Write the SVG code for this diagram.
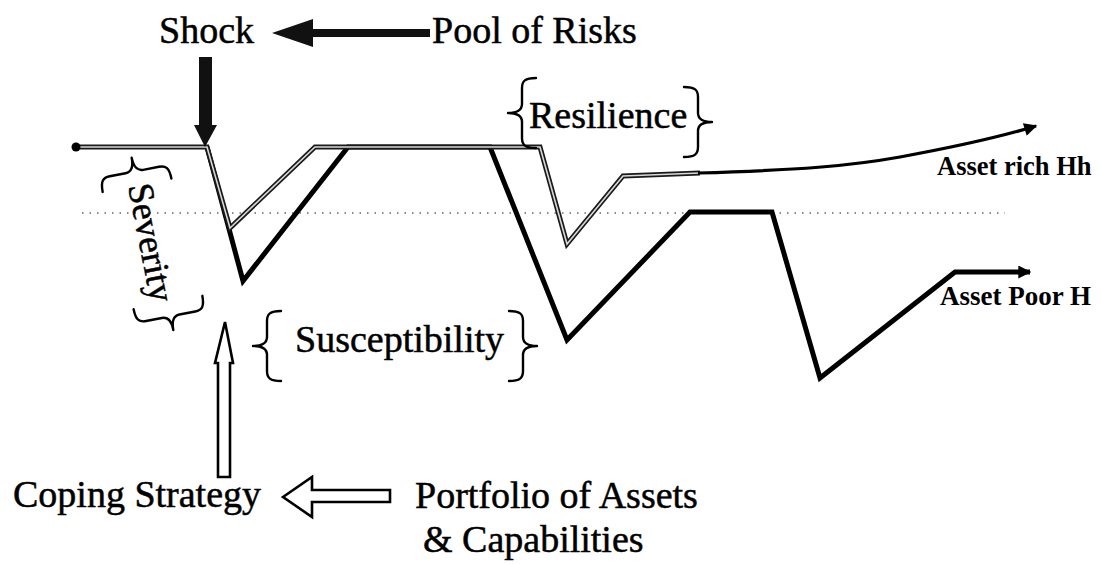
<svg xmlns="http://www.w3.org/2000/svg" xmlns:xlink="http://www.w3.org/1999/xlink" width="1101" height="564" viewBox="0 0 1101 564">
<style>
.t{font-family:"Liberation Serif","Times New Roman",serif;font-size:38px;fill:#000;stroke:#000;stroke-width:0.5}
.tb{font-family:"Liberation Serif","Times New Roman",serif;font-weight:bold;fill:#000}
.brace{fill:none;stroke:#000;stroke-width:2.4;stroke-linecap:round;stroke-linejoin:round}
.dark{fill:none;stroke:#000;stroke-width:5;stroke-linejoin:miter}
.hol-o{fill:none;stroke:#1a1a1a;stroke-width:5;stroke-linejoin:miter}
.hol-i{fill:none;stroke:#d8d8d8;stroke-width:1.6;stroke-linejoin:miter}
.dots{fill:none;stroke:#666;stroke-width:1.6;stroke-dasharray:1.5 6}
.hollow{fill:#fff;stroke:#000;stroke-width:2.6;stroke-linejoin:miter}
</style>
<defs>
<path id="lb" d="M28,-35 C17,-35 14,-32 14,-25 L14,-9 C14,-3 9,0 0,0 C9,0 14,3 14,9 L14,25 C14,32 17,35 28,35"/>
<marker id="ah" viewBox="0 0 10 10" refX="9" refY="5" markerWidth="18" markerHeight="13" markerUnits="userSpaceOnUse" orient="auto">
<path d="M0,0 L10,5 L0,10 z" fill="#000"/>
</marker>
</defs>
<rect width="1101" height="564" fill="#fff"/>

<g id="connectors">
<line class="dots" x1="82" y1="213" x2="1005" y2="213"/>
<!-- asset poor (dark) trajectory -->
<polyline class="dark" points="207,147 243,281 348,147 490,147 567,340 690,212 772,212 820,378 955,272 1030,272" marker-end="url(#ah)"/>
<!-- asset rich (hollow) trajectory -->
<polyline class="hol-o" points="75,147 207,147 230,228 315,147 540,147 567,244 623,176 700,173"/>
<polyline class="hol-i" points="75,147 207,147 230,228 315,147 540,147 567,244 623,176 700,173"/>
<circle cx="76" cy="147" r="4.5" fill="#000"/>
<path d="M698,173 C800,170 850,166 900,157 C960,146 1000,137 1036,126" fill="none" stroke="#000" stroke-width="3.2" marker-end="url(#ah)"/>
<!-- pool of risks to shock -->
<polygon points="272,33 313,19 313,29 430,29 430,37 313,37 313,47" fill="#111"/>
<!-- shock down arrow -->
<polygon points="199,57 212,57 212,125 217,125 205,147 194,125 199,125" fill="#111"/>
<!-- coping strategy up arrow -->
<polygon class="hollow" points="225,322 233,363 230,363 230,477 218,477 218,363 215,363"/>
<!-- portfolio to coping arrow -->
<polygon class="hollow" points="283,497 312,477 312,490 390,490 390,502 312,502 312,517"/>
</g>

<g id="shock"><text class="t" x="159" y="43">Shock</text></g>
<g id="pool"><text class="t" x="432" y="43">Pool of Risks</text></g>

<g id="resilience">
<use href="#lb" xlink:href="#lb" class="brace" transform="translate(508,113)"/>
<text class="t" x="529" y="128">Resilience</text>
<use href="#lb" xlink:href="#lb" class="brace" transform="translate(712,122) scale(-1,1)"/>
</g>

<g id="severity" transform="translate(128,186) rotate(79)">
<use href="#lb" xlink:href="#lb" class="brace" transform="translate(-27,-9)"/>
<text class="t" x="0" y="0" style="font-size:36px">Severity</text>
<use href="#lb" xlink:href="#lb" class="brace" transform="translate(150,-17) scale(-1,1)"/>
</g>

<g id="susceptibility">
<use href="#lb" xlink:href="#lb" class="brace" transform="translate(253,346)"/>
<text class="t" x="295" y="352">Susceptibility</text>
<use href="#lb" xlink:href="#lb" class="brace" transform="translate(537,346) scale(-1,1)"/>
</g>

<g id="coping"><text class="t" x="13" y="507">Coping Strategy</text></g>
<g id="portfolio">
<text class="t" x="415" y="508">Portfolio of Assets</text>
<text class="t" x="423" y="552">&amp; Capabilities</text>
</g>

<g id="asset-rich"><text class="tb" x="937" y="175" font-size="26.5">Asset rich Hh</text></g>
<g id="asset-poor"><text class="tb" x="940" y="305" font-size="27">Asset Poor H</text></g>
</svg>
